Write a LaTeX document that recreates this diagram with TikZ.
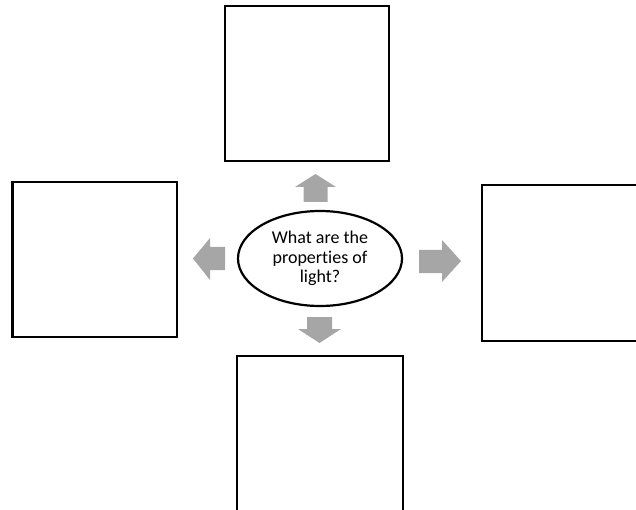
\documentclass[tikz,border=0pt]{standalone}
\usepackage{fontspec}
\setmainfont[Ligatures=NoCommon]{Carlito}
\usetikzlibrary{shapes.geometric}
\definecolor{arrowgray}{RGB}{166,166,166}
\begin{document}
\begin{tikzpicture}[x=1pt,y=-1pt,
  box/.style={draw=black,line width=2.2pt,fill=white,inner sep=0pt},
  blockarrow/.style={fill=arrowgray,draw=none},
  question/.style={draw=black,line width=2.2pt,ellipse,inner sep=0pt,minimum width=164pt,minimum height=95pt,align=center,font=\fontsize{18}{19.5}\selectfont}]
\useasboundingbox (0,0) rectangle (636,510);
\clip (0,0) rectangle (636,510);
\node[box,minimum width=164pt,minimum height=155pt] (topbox) at (307,83.5) {};
\node[box,minimum width=164.5pt,minimum height=155pt] (leftbox) at (94.75,259.5) {};
\node[box,minimum width=165pt,minimum height=156pt] (rightbox) at (564.5,263) {};
\node[box,minimum width=166pt,minimum height=156pt] (bottombox) at (320,434) {};
\node[question] (center) at (320,258.5) {What are the\\properties of\\light?};
% up arrow
\fill[blockarrow] (303.5,202) -- (303.5,187) -- (295,187) -- (315.5,174) -- (336,187) -- (327.5,187) -- (327.5,202) -- cycle;
% down arrow
\fill[blockarrow] (307,317) -- (307,329) -- (298,329) -- (319.5,343) -- (341,329) -- (332,329) -- (332,317) -- cycle;
% left arrow
\fill[blockarrow] (225,247) -- (210,247) -- (210,238) -- (193,258.5) -- (210,280) -- (210,270) -- (225,270) -- cycle;
% right arrow
\fill[blockarrow] (419,250) -- (442,250) -- (442,240) -- (461,261) -- (442,282) -- (442,273) -- (419,273) -- cycle;
\end{tikzpicture}
\end{document}
